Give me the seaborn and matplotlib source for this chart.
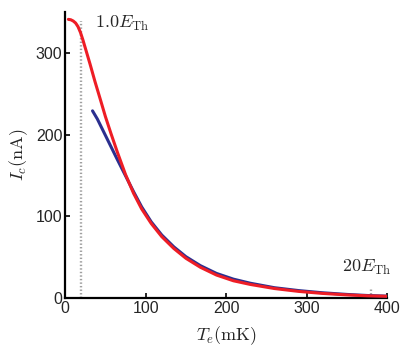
import numpy as np
import pandas as pd
import matplotlib
matplotlib.use("Agg")
import matplotlib.pyplot as plt
import seaborn as sns

# Data
red_T = [4, 7, 10, 13, 16, 19, 22, 25, 31, 37, 44, 50, 57, 65, 75, 85, 95, 107, 120, 135, 150, 168, 188, 209, 230, 260, 290, 320, 350, 375, 400]
red_I = [341, 340.5, 339, 336.5, 332, 325, 316, 306, 286, 265, 242, 222, 201, 178, 151, 128, 109, 91, 75, 60.5, 48.5, 37.5, 28, 21, 16.5, 11.5, 8, 5.5, 3.7, 2.6, 2.0]
blue_T = [34, 40, 46, 52, 58, 65, 75, 85, 95, 107, 120, 135, 150, 168, 188, 209, 230, 260, 290, 320, 350, 375, 400]
blue_I = [229, 219, 207, 195, 183, 169, 149.5, 130, 111.5, 93, 77, 62.5, 50.5, 39.5, 30, 23, 18, 12.5, 9, 6.3, 4.3, 3.0, 2.2]
vline_T = [20, 380]
vline_top = [339, 12]
labels = ["$1.0E_{\\mathrm{Th}}$", "$20E_{\\mathrm{Th}}$"]
x_ticks = [0, 100, 200, 300, 400]
y_ticks = [0, 100, 200, 300]

sns.set_style("ticks")
plt.rcParams["font.family"] = ["Liberation Sans", "DejaVu Sans"]
plt.rcParams["mathtext.fontset"] = "cm"

fig = plt.figure(figsize=(4.15, 3.53), dpi=100)
ax = fig.add_axes([0.157, 0.156, 0.776, 0.810])

df_red = pd.DataFrame({"T": red_T, "I": red_I})
df_blue = pd.DataFrame({"T": blue_T, "I": blue_I})

for t, top in zip(vline_T, vline_top):
    ax.plot([t, t], [0, top], color="#a0a0a0", lw=1.7, ls=(0, (0.6, 0.9)), zorder=1)

sns.lineplot(data=df_blue, x="T", y="I", ax=ax, color="#2b2f8f", lw=2.2, zorder=3)
sns.lineplot(data=df_red, x="T", y="I", ax=ax, color="#ee1d25", lw=2.2, zorder=4)

ax.text(37, 336, labels[0], fontsize=13, va="center", ha="left")
ax.text(344, 37, labels[1], fontsize=13, va="center", ha="left")

ax.set_xlim(0, 400)
ax.set_ylim(0, 350)
ax.set_xticks(x_ticks)
ax.set_yticks(y_ticks)
ax.set_xlabel("$T_e(\\mathrm{mK})$", fontsize=13, labelpad=6)
ax.set_ylabel("$I_c(\\mathrm{nA})$", fontsize=13, labelpad=4)
ax.tick_params(direction="in", length=3.5, width=1.2, labelsize=11.5, pad=2, color="black")
for s in ["left", "bottom"]:
    ax.spines[s].set_linewidth(1.6)
    ax.spines[s].set_color("black")
for s in ["top", "right"]:
    ax.spines[s].set_visible(False)

fig.savefig("out.png", dpi=100)
